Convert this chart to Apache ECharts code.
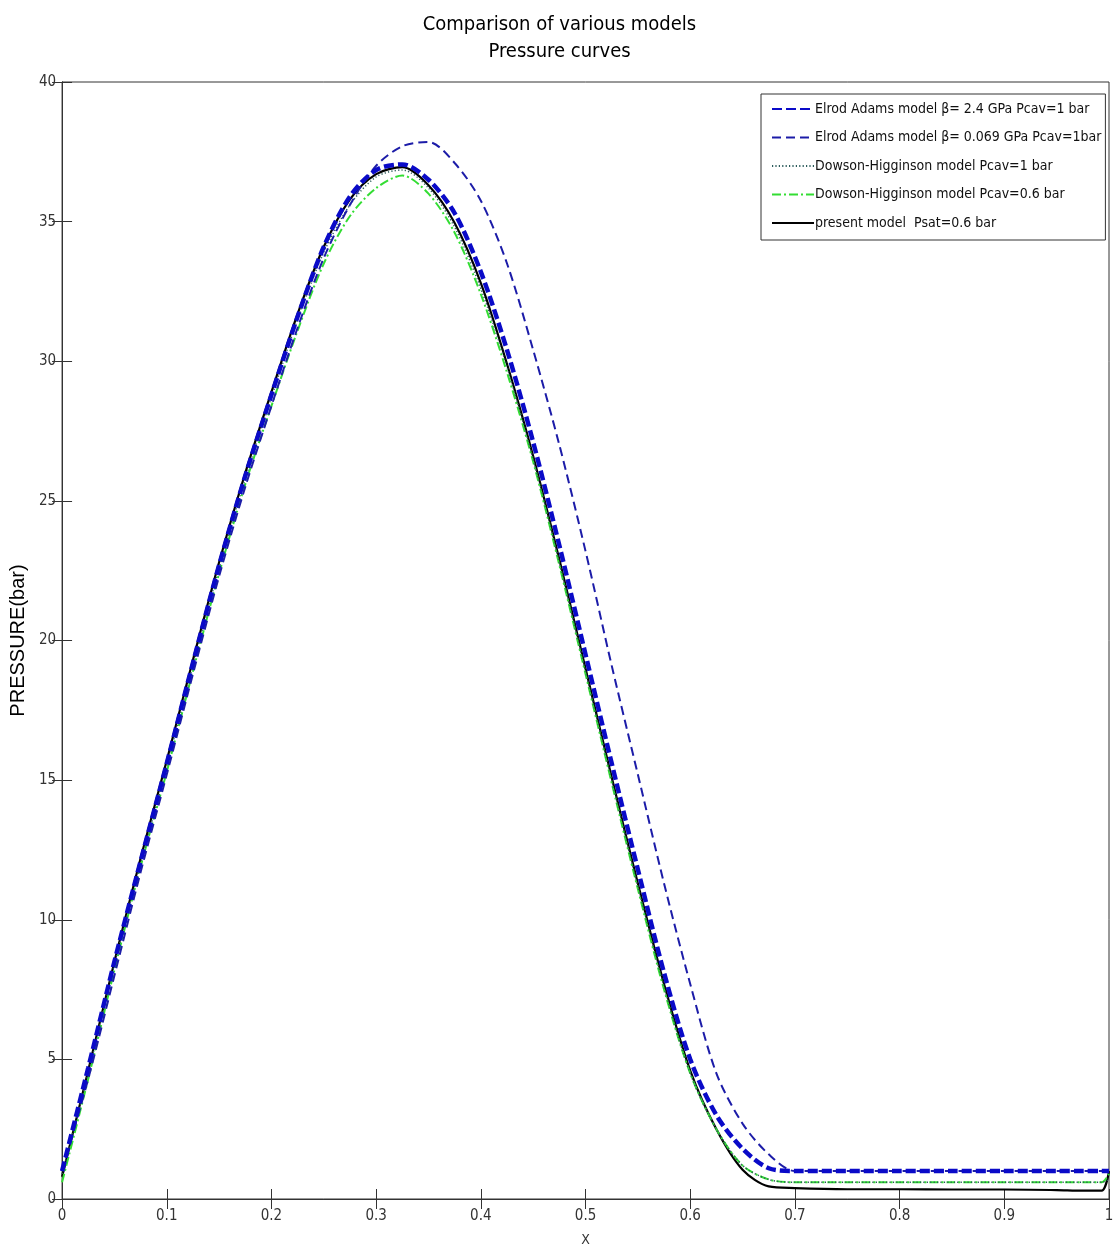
<!DOCTYPE html>
<html><head><meta charset="utf-8">
<script src="https://cdn.jsdelivr.net/npm/echarts@6/dist/echarts.min.js"></script>
<style>html,body{margin:0;padding:0;background:#fff}#c{width:1119px;height:1254px}</style>
</head><body><div id="c"></div>
<script>
// Shared x positions (X)
const xs = [0,0.025,0.05,0.075,0.1,0.125,0.15,0.175,0.2,0.225,0.25,0.275,0.3,0.325,0.35,0.375,0.4,0.425,0.45,0.475,0.5,0.525,0.55,0.575,0.6,0.625,0.65,0.675,0.7,0.75,0.8,0.85,0.9,0.95,0.975,0.993,1.0];
// Elrod Adams beta=2.4 GPa, Pcav=1 bar
const elrod24 = [1.0,4.7,8.5,12.1,15.6,19.2,22.7,25.9,28.8,31.6,34.1,35.9,36.85,37.05,36.5,35.3,33.2,30.4,27.1,23.4,19.5,15.6,11.8,8.1,5.0,3.0,1.8,1.1,1.0,1.0,1.0,1.0,1.0,1.0,1.0,1.0,1.0];
// Elrod Adams beta=0.069 GPa, Pcav=1 bar
const elrod0069 = [1.0,4.3,8.0,11.7,15.2,18.8,22.3,25.5,28.4,31.2,33.7,35.6,37.0,37.7,37.85,37.1,35.75,33.5,30.4,27.0,23.2,19.1,15.2,11.3,7.7,4.5,2.7,1.6,1.0,1.0,1.0,1.0,1.0,1.0,1.0,1.0,1.0];
// Dowson-Higginson Pcav=1 bar
const dh1 = [0.9,4.5,8.4,12.0,15.5,19.1,22.6,25.8,28.7,31.5,33.9,35.6,36.6,36.85,36.2,34.8,32.6,29.8,26.5,22.8,18.9,15.0,11.2,7.6,4.5,2.5,1.2,0.7,0.6,0.6,0.6,0.6,0.6,0.6,0.6,0.6,0.7];
// Dowson-Higginson Pcav=0.6 bar
const dh06 = [0.6,4.3,8.2,11.9,15.3,18.9,22.4,25.6,28.4,31.1,33.5,35.2,36.2,36.65,36.0,34.6,32.4,29.6,26.4,22.7,18.8,14.9,11.1,7.5,4.5,2.5,1.2,0.7,0.6,0.6,0.6,0.6,0.6,0.6,0.6,0.6,0.9];
// Present model Psat=0.6 bar
const present = [0.8,4.6,8.5,12.2,15.7,19.3,22.8,26.0,28.9,31.7,34.1,35.8,36.7,36.95,36.3,34.95,32.8,29.9,26.6,22.9,19.0,15.1,11.3,7.7,4.6,2.5,1.05,0.45,0.39,0.35,0.35,0.34,0.34,0.32,0.3,0.3,1.0];

const xTicks = [0,0.1,0.2,0.3,0.4,0.5,0.6,0.7,0.8,0.9,1];
const yTicks = [0,5,10,15,20,25,30,35,40];

const names = [
  'Elrod Adams model \u03b2= 2.4 GPa Pcav=1 bar',
  'Elrod Adams model \u03b2= 0.069 GPa Pcav=1bar',
  'Dowson-Higginson model Pcav=1 bar',
  'Dowson-Higginson model Pcav=0.6 bar',
  'present model  Psat=0.6 bar'
];
const NARROW = "'Liberation Sans Narrow','DejaVu Sans Condensed','Roboto Condensed',sans-serif";

function pairs(ys){ return xs.map((x,i)=>[x, ys[i]]); }

const chart = echarts.init(document.getElementById('c'), null, {renderer:'canvas'});
const base = {type:'line', symbol:'none', smooth:0.3, animation:false};
chart.setOption({
  backgroundColor:'#fff',
  animation:false,
  title:{text:'Comparison of various models\nPressure curves', left:'center', top:6,
    textStyle:{fontFamily:NARROW, fontSize:20, fontWeight:'normal', color:'#000', lineHeight:27}},
  grid:{left:59, right:10, top:82, bottom:55, show:true, borderColor:'#333', borderWidth:1, backgroundColor:'transparent'},
  legend:{orient:'vertical', left:761, top:94, itemWidth:42, itemHeight:14, itemGap:14.5,
    backgroundColor:'#fff', borderColor:'#333', borderWidth:1, borderRadius:0, padding:[8,4,10,10],
    itemStyle:{opacity:0, borderWidth:0},
    textStyle:{fontFamily:NARROW, fontSize:14, color:'#111', padding:[0,0,0,-4]},
    data:names},
  xAxis:[{type:'value', min:0, max:1, interval:0.1, position:'bottom',
    name:'X', nameLocation:'middle', nameGap:34,
    nameTextStyle:{fontFamily:NARROW, fontSize:14, color:'#333'},
    axisLine:{show:true, lineStyle:{color:'#333'}},
    axisTick:{show:true, inside:true, length:10, lineStyle:{color:'#333'}},
    axisLabel:{fontFamily:NARROW, fontSize:15, color:'#333', margin:10,
      formatter:v=>{const t=xTicks.find(k=>Math.abs(k-v)<1e-9);return t===undefined?'':String(t);}},
    splitLine:{show:false}},
   {type:'value', min:0, max:1, interval:0.1, position:'top',
    axisLine:{show:true, lineStyle:{color:'#333'}},
    axisTick:{show:true, inside:true, length:10, lineStyle:{color:'#333'}},
    axisLabel:{show:false}, splitLine:{show:false}}],
  yAxis:[{type:'value', min:0, max:40, interval:5, position:'left',
    name:'PRESSURE(bar)', nameLocation:'middle', nameGap:30,
    nameTextStyle:{fontFamily:"'Liberation Sans',Arial,sans-serif", fontSize:20, color:'#000'},
    axisLine:{show:true, lineStyle:{color:'#333'}},
    axisTick:{show:true, inside:true, length:10, lineStyle:{color:'#333'}},
    axisLabel:{fontFamily:NARROW, fontSize:15, color:'#333', margin:6,
      formatter:v=>{const t=yTicks.find(k=>Math.abs(k-v)<1e-9);return t===undefined?'':String(t);}},
    splitLine:{show:false}},
   {type:'value', min:0, max:40, interval:5, position:'right',
    axisLine:{show:true, lineStyle:{color:'#333'}},
    axisTick:{show:true, inside:true, length:10, lineStyle:{color:'#333'}},
    axisLabel:{show:false}, splitLine:{show:false}}],
  series:[
    Object.assign({}, base, {name:names[4], data:pairs(present), z:2,
      itemStyle:{color:'#000'}, lineStyle:{color:'#000', width:2.2, type:'solid'}}),
    Object.assign({}, base, {name:names[3], data:pairs(dh06), z:3,
      itemStyle:{color:'#33dd33'}, lineStyle:{color:'#33dd33', width:2, type:[9,3,2,3]}}),
    Object.assign({}, base, {name:names[2], data:pairs(dh1), z:4,
      itemStyle:{color:'#2a5a5a'}, lineStyle:{color:'#2a5a5a', width:1.5, type:[1.2,2.2]}}),
    Object.assign({}, base, {name:names[1], data:pairs(elrod0069), z:5,
      itemStyle:{color:'#1c1ca8'}, lineStyle:{color:'#1c1ca8', width:2, type:[9,5]}}),
    Object.assign({}, base, {name:names[0], data:pairs(elrod24), z:6,
      itemStyle:{color:'#0a0ac8'}, lineStyle:{color:'#0a0ac8', width:4.5, type:[10,4]}})
  ]
});
</script></body></html>
